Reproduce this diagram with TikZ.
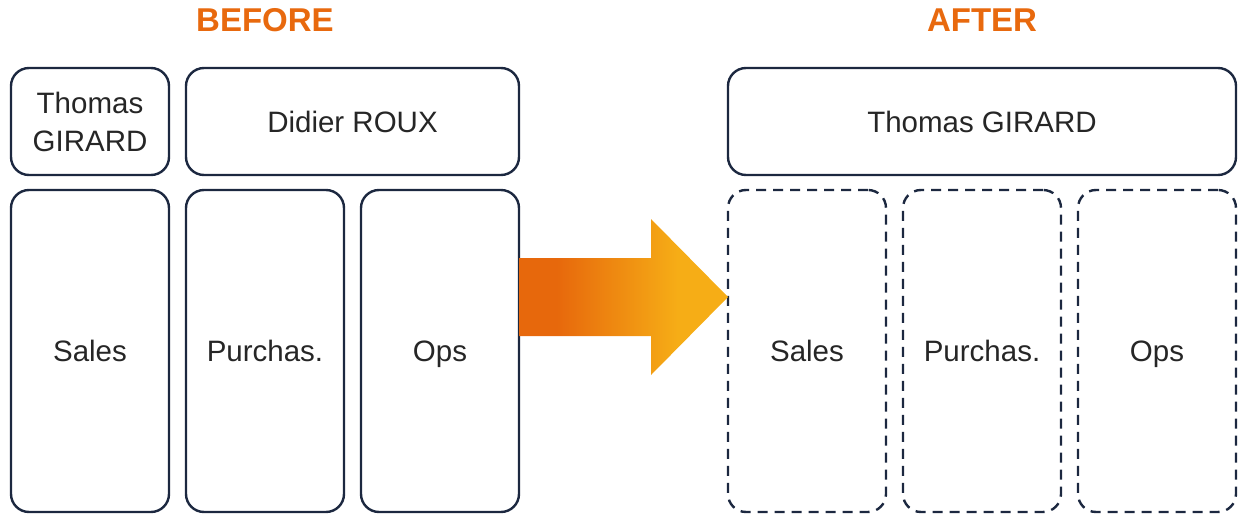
\documentclass[tikz,border=0pt]{standalone}
\usepackage{fontspec}
\setmainfont{Liberation Sans}
\definecolor{navy}{HTML}{1C2840}
\definecolor{ttl}{HTML}{E8690E}
\definecolor{txt}{HTML}{262626}
\definecolor{orA}{HTML}{E7680C}
\definecolor{yeB}{HTML}{F6AD16}
\pgfdeclarehorizontalshading{arrowgrad}{100bp}{color(0bp)=(orA); color(34bp)=(orA); color(63bp)=(yeB); color(100bp)=(yeB)}
\tikzset{
  box/.style={draw=navy, line width=2.4pt, rounded corners=18pt, rectangle, inner sep=0pt, outer sep=0pt,
    text=txt, font=\fontsize{29.5}{38}\selectfont, align=center, text height=21pt, text depth=0pt},
  dbox/.style={box, dash pattern=on 10pt off 7pt},
  ttlstyle/.style={text=ttl, font=\fontsize{33}{38}\selectfont\bfseries, inner sep=0pt}
}
\begin{document}
\begin{tikzpicture}[x=1pt,y=-1pt]
\useasboundingbox (0,0) rectangle (1243,519);
% titles
\node[ttlstyle] (tb) at (265,20) {BEFORE};
\node[ttlstyle] (ta) at (982,20) {AFTER};
% before
\node[box, minimum width=158pt, minimum height=107pt, text height=59pt] (tg) at (90,121.5) {Thomas\\GIRARD};
\node[box, minimum width=333pt, minimum height=107pt] (dr) at (352.5,121.5) {Didier ROUX};
\node[box, minimum width=158pt, minimum height=322pt] (s1) at (90,351) {Sales};
\node[box, minimum width=158pt, minimum height=322pt] (p1) at (265,351) {Purchas.};
\node[box, minimum width=158pt, minimum height=322pt] (o1) at (440,351) {Ops};
% after
\node[box, minimum width=508pt, minimum height=107pt] (tg2) at (982,121.5) {Thomas GIRARD};
\node[dbox, minimum width=158pt, minimum height=322pt] (s2) at (807,351) {Sales};
\node[dbox, minimum width=158pt, minimum height=322pt] (p2) at (982,351) {Purchas.};
\node[dbox, minimum width=158pt, minimum height=322pt] (o2) at (1157,351) {Ops};
% arrow
\shade[shading=arrowgrad] (o1.east |- 0,258) -- (651,258) -- (651,219) -- (s2.west |- 0,297)
  -- (651,375) -- (651,336) -- (o1.east |- 0,336) -- cycle;
\end{tikzpicture}
\end{document}
